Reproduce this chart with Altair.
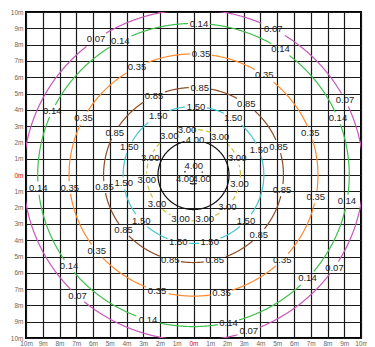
import altair as alt
import pandas as pd
import numpy as np

# contour levels (lux) and their radii in metres
levels = ["0.07", "0.14", "0.35", "0.85", "1.50", "3.00", "4.00", "4.00"]
radii = [10.15, 9.3, 7.43, 5.37, 4.2, 2.8, 2.12, 0.55]
colors = ["#c757bb", "#3fbf4c", "#ff8a2c", "#8d4b27", "#42c5d0", "#c8c43c", "#111111", "#111111"]
dash_kind = ["solid", "solid", "solid", "solid", "solid", "dash", "solid", "solid"]

# angles (degrees) at which each contour is labelled
label_angles = [
    [125, 62, 27, -34, -71, 227],
    [88, 118, 155, 185, 217, 253, -77, -43, -10, 22, 56],
    [86.5, 117, 152, 186, 219, 253, -77, -44.5, -10.5, 20.3, 55.3],
    [86, 116, 151, 188, 219, 255, -76.3, -43.4, -10, 19, 54],
    [88, 120, 156, 187, 222, 257.5, -76.7, -41.8, 21.5, 55.7],
    [98, 121, 157.5, 186, 219, 254, -76, -43.7, -11, 21.3, 55.4],
    [87.5],
    [88, 205, -28],
]

ticks = list(range(-10, 11))

W, H = 335, 326
SX = W / 20.0
HW, HH = 10.5, 6.0  # label half box in px

rows, labs = [], []
for i, (lv, r, angs) in enumerate(zip(levels, radii, label_angles)):
    gaps = []
    for a in angs:
        th = np.radians(a)
        s, c = abs(np.sin(th)), abs(np.cos(th))
        half_px = min(HW / s if s > 1e-6 else 1e9, HH / c if c > 1e-6 else 1e9)
        gaps.append((a, np.degrees(half_px / (r * SX))))
        labs.append(dict(x=r * np.cos(th), y=r * np.sin(th), text=lv))
    seg, prev = 0, False
    for t in np.arange(0, 360.01, 0.5):
        vis = all(abs(((t - a + 180) % 360) - 180) > g for a, g in gaps)
        if vis:
            if not prev:
                seg += 1
            th = np.radians(t)
            rows.append(dict(x=r * np.cos(th), y=r * np.sin(th), seg=f"{i}-{seg}",
                             t=t, level=str(i), dash=dash_kind[i]))
        prev = vis

lines = pd.DataFrame(rows)
labels = pd.DataFrame(labs)

label_color = {"condition": {"test": "datum.value === 0", "value": "#e00000"}, "value": "#666666"}


def make_axis(pad):
    return alt.Axis(values=ticks, grid=True, gridColor="#1a1a1a", gridWidth=1.2, domain=False,
                    ticks=False, labelExpr="abs(datum.value) + 'm'", labelColor=label_color,
                    labelFontSize=6.5, labelFont="Liberation Sans", labelPadding=pad, title=None,
                    labelFlush=False, labelOverlap=False, tickCount=21)


xs = alt.Scale(domain=[-10, 10], nice=False, zero=False)
ys = alt.Scale(domain=[-10, 10], nice=False, zero=False)

line_layer = alt.Chart(lines).mark_line(clip=True, strokeWidth=1.2).encode(
    x=alt.X("x:Q", scale=xs, axis=make_axis(2)),
    y=alt.Y("y:Q", scale=ys, axis=make_axis(3)),
    detail="seg:N",
    order="t:Q",
    color=alt.Color("level:N", scale=alt.Scale(domain=[str(i) for i in range(8)], range=colors), legend=None),
    strokeDash=alt.StrokeDash("dash:N", scale=alt.Scale(domain=["solid", "dash"], range=[[1, 0], [5, 3]]), legend=None),
)

text_layer = alt.Chart(labels).mark_text(fontSize=9.5, font="Liberation Sans", color="#222222",
                                          align="center", baseline="middle", clip=True).encode(
    x=alt.X("x:Q", scale=xs, axis=make_axis(2)),
    y=alt.Y("y:Q", scale=ys, axis=make_axis(3)),
    text="text:N",
)

chart = alt.layer(line_layer, text_layer).properties(
    width=W, height=H, autosize="none",
    padding={"left": 18, "top": 4, "right": 6, "bottom": 9},
).configure_view(stroke="black", strokeWidth=2)

chart.save("out.html", embed_options={"renderer": "svg", "actions": False})
